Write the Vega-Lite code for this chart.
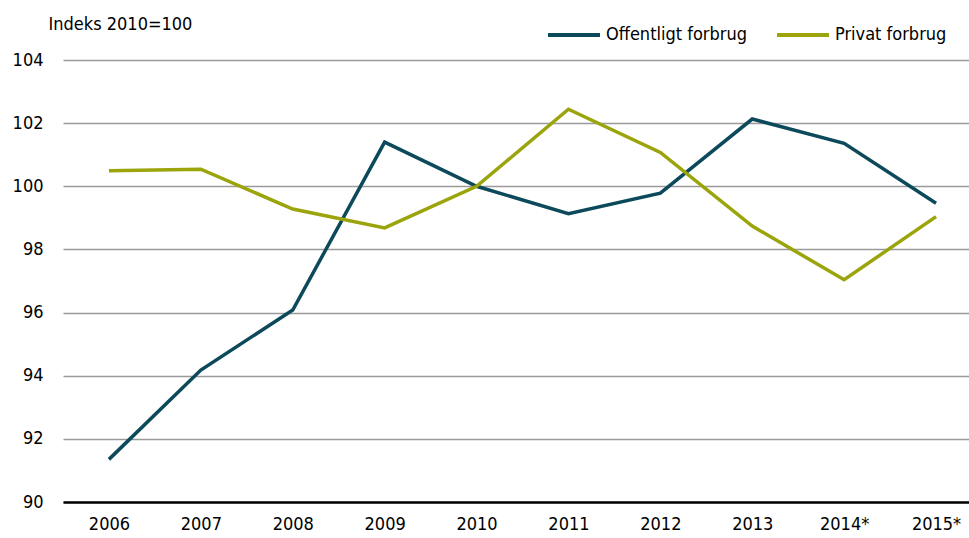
{
  "$schema": "https://vega.github.io/schema/vega-lite/v6.json",
  "autosize": {"type": "none"},
  "width": 919,
  "height": 442,
  "padding": {"left": 63, "top": 60, "right": 0, "bottom": 36},
  "background": "white",
  "config": {
    "font": "DejaVu Sans Condensed, Liberation Sans, sans-serif",
    "view": {"stroke": null}
  },
  "data": {
    "values": [
      {"year": "2006", "serie": "Offentligt forbrug", "value": 91.35},
      {"year": "2007", "serie": "Offentligt forbrug", "value": 94.18},
      {"year": "2008", "serie": "Offentligt forbrug", "value": 96.08},
      {"year": "2009", "serie": "Offentligt forbrug", "value": 101.4},
      {"year": "2010", "serie": "Offentligt forbrug", "value": 100.0},
      {"year": "2011", "serie": "Offentligt forbrug", "value": 99.13},
      {"year": "2012", "serie": "Offentligt forbrug", "value": 99.78},
      {"year": "2013", "serie": "Offentligt forbrug", "value": 102.13},
      {"year": "2014*", "serie": "Offentligt forbrug", "value": 101.36},
      {"year": "2015*", "serie": "Offentligt forbrug", "value": 99.46},
      {"year": "2006", "serie": "Privat forbrug", "value": 100.49},
      {"year": "2007", "serie": "Privat forbrug", "value": 100.54},
      {"year": "2008", "serie": "Privat forbrug", "value": 99.28},
      {"year": "2009", "serie": "Privat forbrug", "value": 98.68},
      {"year": "2010", "serie": "Privat forbrug", "value": 100.0},
      {"year": "2011", "serie": "Privat forbrug", "value": 102.44},
      {"year": "2012", "serie": "Privat forbrug", "value": 101.07},
      {"year": "2013", "serie": "Privat forbrug", "value": 98.74},
      {"year": "2014*", "serie": "Privat forbrug", "value": 97.04},
      {"year": "2015*", "serie": "Privat forbrug", "value": 99.04}
    ]
  },
  "mark": {"type": "line", "strokeWidth": 3.5, "clip": false},
  "encoding": {
    "x": {
      "field": "year",
      "type": "ordinal",
      "scale": {"type": "point", "padding": 0.5},
      "axis": {
        "title": null,
        "labelAngle": 0,
        "labelFontSize": 18,
        "labelColor": "#000",
        "labelPadding": 13,
        "ticks": false,
        "domain": true,
        "domainColor": "#000",
        "domainWidth": 2.5,
        "grid": false
      }
    },
    "y": {
      "field": "value",
      "type": "quantitative",
      "scale": {"domain": [90, 104], "nice": false, "zero": false},
      "axis": {
        "values": [90, 92, 94, 96, 98, 100, 102, 104],
        "title": "Indeks 2010=100",
        "titleAngle": 0,
        "titleAlign": "left",
        "titleBaseline": "alphabetic",
        "titleX": -15,
        "titleY": -31,
        "titleFontSize": 18,
        "titleFontWeight": "normal",
        "titleColor": "#000",
        "labelFontSize": 18,
        "labelColor": "#000",
        "labelPadding": 20,
        "ticks": false,
        "domain": false,
        "grid": true,
        "gridColor": "#9a9a9a",
        "gridWidth": 1.5
      }
    },
    "color": {
      "field": "serie",
      "type": "nominal",
      "scale": {
        "domain": ["Offentligt forbrug", "Privat forbrug"],
        "range": ["#0c4a5b", "#9ba40b"]
      },
      "legend": {
        "title": null,
        "orient": "none",
        "direction": "horizontal",
        "legendX": 483,
        "legendY": -53,
        "symbolType": "stroke",
        "symbolSize": 2700,
        "symbolStrokeWidth": 4,
        "labelFontSize": 18,
        "labelColor": "#000",
        "labelOffset": 4,
        "columnPadding": 22
      }
    }
  }
}
